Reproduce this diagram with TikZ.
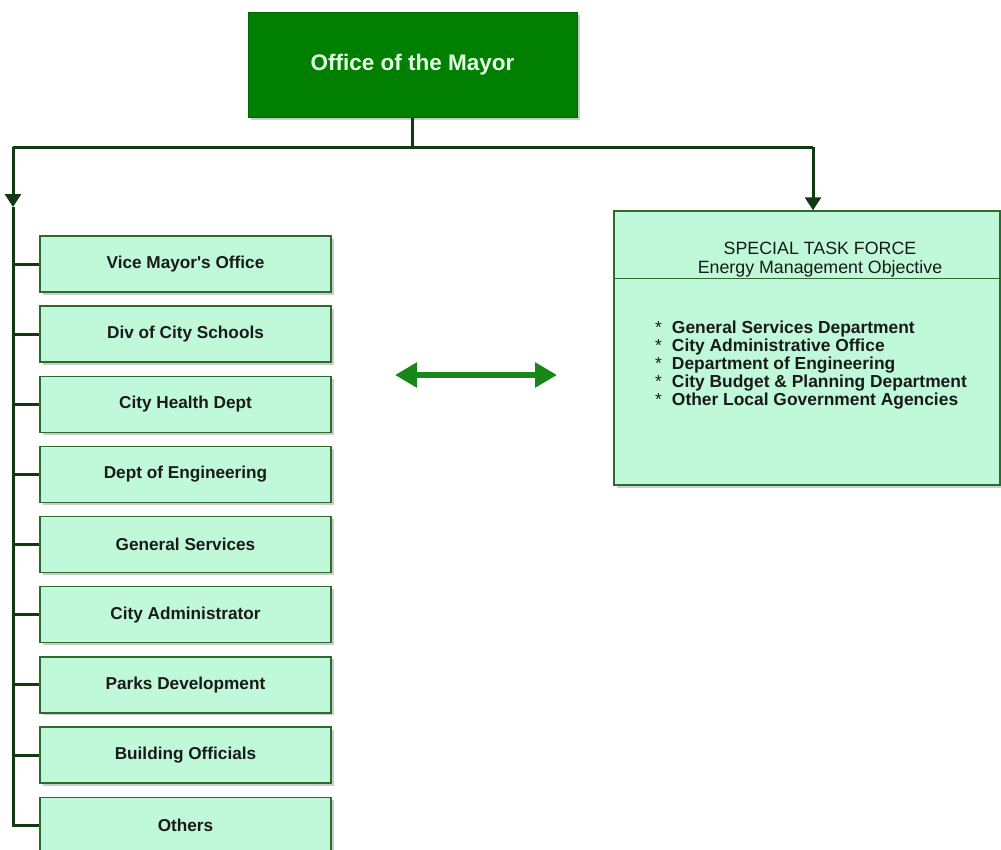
\documentclass[tikz,border=0pt]{standalone}
\usepackage{fontspec}
\setmainfont{Liberation Sans}[Ligatures=TeXOff]
\usetikzlibrary{arrows.meta,shadows,calc}
\definecolor{mayorgreen}{HTML}{007F00}
\definecolor{mayoredge}{HTML}{006400}
\definecolor{mint}{HTML}{BFF9D9}
\definecolor{mintedge}{HTML}{2F6A2F}
\definecolor{wire}{HTML}{123A12}
\definecolor{arrowgreen}{HTML}{17871A}
\definecolor{inktext}{HTML}{1A1A1A}
\tikzset{
  softshadow/.style={drop shadow={shadow xshift=2.5pt,shadow yshift=-2.5pt,opacity=0.2,fill=black}},
  unitbox/.style={draw=mintedge,line width=1.4pt,fill=mint,softshadow,
    minimum width=291pt,minimum height=56pt,inner sep=0pt,
    font=\fontsize{17.2}{18}\selectfont\bfseries,text=inktext},
  mayorbox/.style={draw=mayoredge,line width=1pt,fill=mayorgreen,softshadow,
    minimum width=329pt,minimum height=105pt,inner sep=0pt,
    font=\fontsize{22.5}{24}\selectfont\bfseries,text=white!90!green},
  bus/.style={draw=wire,line width=3pt},
  busarrow/.style={bus,-{Triangle[length=13pt,width=16pt]}},
  linkarrow/.style={draw=arrowgreen,line width=6pt,
    {Triangle[length=22pt,width=24pt]}-{Triangle[length=22pt,width=24pt]}},
}
% list bullet: a plain asterisk followed by a wide gap
\newcommand{\itemstar}{{\mdseries *}\hspace{10pt}}
\begin{document}
\begin{tikzpicture}[x=1pt,y=-1pt]
\clip (0,0) rectangle (1001,849);
\fill[white] (0,0) rectangle (1001,849);

% top of the chart
\node[mayorbox] (mayor) at (412.5,64.5) {Office of the Mayor};

% task force panel
\node[draw=mintedge,line width=1.4pt,fill=mint,softshadow,
      minimum width=386pt,minimum height=274pt,inner sep=0pt] (tf) at (807,348) {};
\draw[draw=mintedge,line width=1.2pt] ($(tf.north west)+(0,68)$) -- ($(tf.north east)+(0,68)$);
\node[align=center,font=\fontsize{17.8}{19}\selectfont,text=inktext] (tftitle) at (820,260)
  {SPECIAL TASK FORCE\\Energy Management Objective};
\node[anchor=north west,align=left,inner sep=0pt,
      font=\fontsize{17.4}{18}\selectfont\bfseries,text=inktext] (tflist) at (655,321)
  {\itemstar General Services Department\\
   \itemstar City Administrative Office\\
   \itemstar Department of Engineering\\
   \itemstar City Budget \& Planning Department\\
   \itemstar Other Local Government Agencies};

% departments
\foreach \name/\label [count=\i from 0] in {
  d1/{Vice Mayor's Office},
  d2/{Div of City Schools},
  d3/{City Health Dept},
  d4/{Dept of Engineering},
  d5/{General Services},
  d6/{City Administrator},
  d7/{Parks Development},
  d8/{Building Officials},
  d9/{Others}}
{
  \node[unitbox] (\name) at (185.5,{264+70.15*\i}) {\label};
}

% bus lines
\coordinate (busL) at (13,147);
\coordinate (busR) at (813,147);
\coordinate (leftTip) at (13,207);
\draw[bus] (mayor.south) -- (mayor.south |- busL);
\draw[bus] (busL) -- (busR);
\draw[busarrow] (busL) -- (leftTip);
\draw[busarrow] (busR) -- (busR |- tf.north);
\draw[bus] (leftTip) -- (d9.west -| busL) -- (d9.west);
\foreach \name in {d1,d2,d3,d4,d5,d6,d7,d8}{
  \draw[bus] (\name.west -| busL) -- (\name.west);
}

% two-way link
\coordinate (linkA) at (395,375);
\coordinate (linkB) at (557,375);
\draw[linkarrow] (linkA) -- (linkB);
\end{tikzpicture}
\end{document}
